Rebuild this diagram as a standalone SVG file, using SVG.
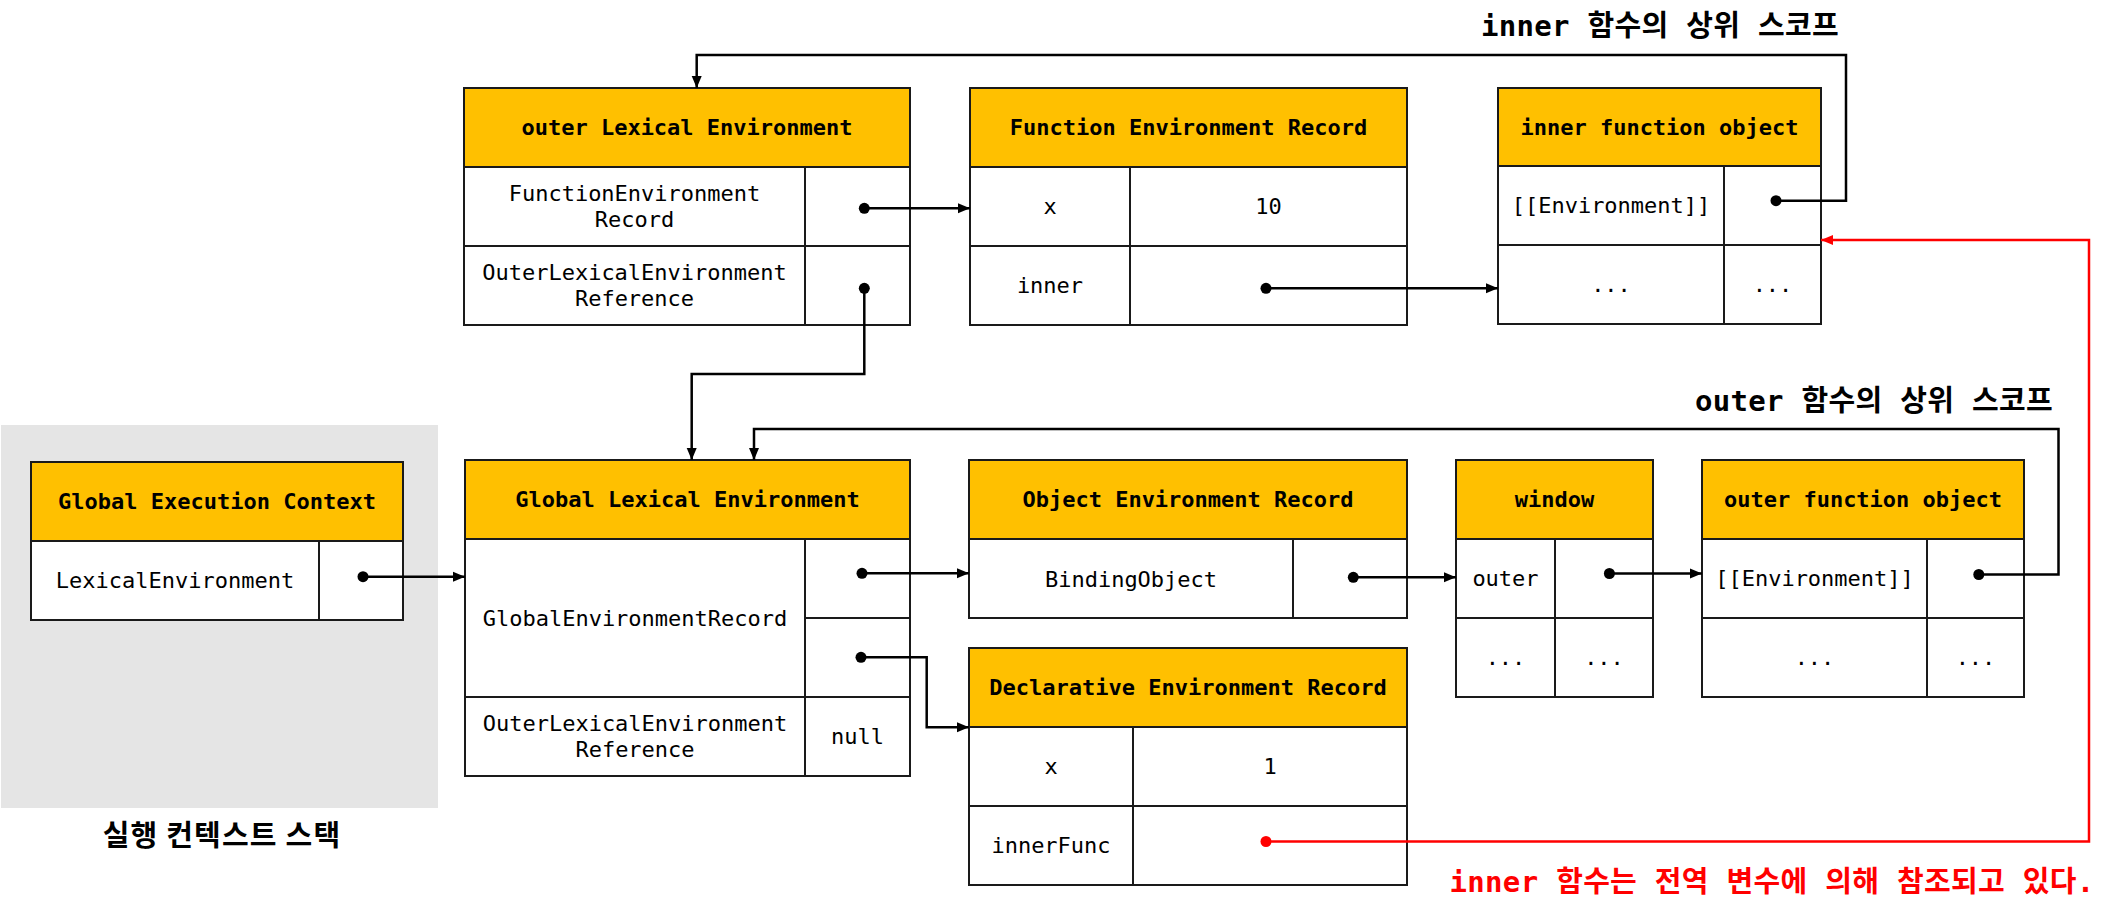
<svg xmlns="http://www.w3.org/2000/svg" width="2116" height="916" viewBox="0 0 2116 916">
<style>
.hdr{fill:#FFC000;stroke:#1a1a1a;stroke-width:2}
.cell{fill:#ffffff;stroke:#1a1a1a;stroke-width:2}
.ln{stroke:#1a1a1a;stroke-width:2;fill:none}
.ht{font-family:"DejaVu Sans Mono","Noto Sans CJK KR",monospace;font-size:22px;font-weight:bold;fill:#000;text-anchor:middle;dominant-baseline:central}
.bt{font-family:"DejaVu Sans Mono","Noto Sans CJK KR",monospace;font-size:22px;fill:#000;text-anchor:middle;dominant-baseline:central}
.ttl{font-family:"DejaVu Sans Mono","Noto Sans CJK KR",monospace;font-size:29px;font-weight:bold;fill:#000;text-anchor:middle;letter-spacing:0.3px}
.red{fill:#ff0000}
.con{stroke:#000;stroke-width:2.5;fill:none}
.conr{stroke:#ff0000;stroke-width:2.5;fill:none}
.dot{fill:#000}
.dotr{fill:#ff0000}
</style>
<defs>
<marker id="ah" markerUnits="userSpaceOnUse" markerWidth="12" markerHeight="12" viewBox="0 0 12 12" refX="12" refY="6" orient="auto">
<path d="M0,1 L12,6 L0,11 z" fill="#000"/>
</marker>
<marker id="ahr" markerUnits="userSpaceOnUse" markerWidth="12" markerHeight="12" viewBox="0 0 12 12" refX="12" refY="6" orient="auto">
<path d="M0,1 L12,6 L0,11 z" fill="#ff0000"/>
</marker>
</defs>
<rect width="2116" height="916" fill="#ffffff"/>

<g id="stack">
<rect x="1" y="425" width="437" height="383" fill="#e5e5e5"/>
<text x="222" y="846" style="font-family:'Noto Sans CJK KR',sans-serif;font-size:29px;font-weight:bold;text-anchor:middle;fill:#000;letter-spacing:1.2px">실행 컨텍스트 스택</text>
</g>

<g id="global-execution-context">
<rect class="hdr" x="31" y="462" width="372" height="79"/>
<rect class="cell" x="31" y="541" width="372" height="79"/>
<line class="ln" x1="319" y1="541" x2="319" y2="620"/>
<text class="ht" x="217" y="501.5">Global Execution Context</text>
<text class="bt" x="175" y="580.5">LexicalEnvironment</text>
</g>

<g id="global-lexical-environment">
<rect class="hdr" x="465" y="460" width="445" height="79"/>
<rect class="cell" x="465" y="539" width="445" height="237"/>
<line class="ln" x1="805" y1="539" x2="805" y2="776"/>
<line class="ln" x1="805" y1="618" x2="910" y2="618"/>
<line class="ln" x1="465" y1="697" x2="910" y2="697"/>
<text class="ht" x="687.5" y="499.5">Global Lexical Environment</text>
<text class="bt" x="635" y="618">GlobalEnvironmentRecord</text>
<text class="bt" x="635" y="723.5">OuterLexicalEnvironment</text>
<text class="bt" x="635" y="749.5">Reference</text>
<text class="bt" x="857.5" y="736.5">null</text>
</g>

<g id="outer-lexical-environment">
<rect class="hdr" x="464" y="88" width="446" height="79"/>
<rect class="cell" x="464" y="167" width="446" height="158"/>
<line class="ln" x1="805" y1="167" x2="805" y2="325"/>
<line class="ln" x1="464" y1="246" x2="910" y2="246"/>
<text class="ht" x="687" y="127.5">outer Lexical Environment</text>
<text class="bt" x="634.5" y="193.5">FunctionEnvironment</text>
<text class="bt" x="634.5" y="219">Record</text>
<text class="bt" x="634.5" y="272.5">OuterLexicalEnvironment</text>
<text class="bt" x="634.5" y="298">Reference</text>
</g>

<g id="function-environment-record">
<rect class="hdr" x="970" y="88" width="437" height="79"/>
<rect class="cell" x="970" y="167" width="437" height="158"/>
<line class="ln" x1="1130" y1="167" x2="1130" y2="325"/>
<line class="ln" x1="970" y1="246" x2="1407" y2="246"/>
<text class="ht" x="1188.5" y="127.5">Function Environment Record</text>
<text class="bt" x="1050" y="206.5">x</text>
<text class="bt" x="1268.5" y="206.5">10</text>
<text class="bt" x="1050" y="285.5">inner</text>
</g>

<g id="inner-function-object">
<rect class="hdr" x="1498" y="88" width="323" height="78"/>
<rect class="cell" x="1498" y="166" width="323" height="158"/>
<line class="ln" x1="1724" y1="166" x2="1724" y2="324"/>
<line class="ln" x1="1498" y1="245" x2="1821" y2="245"/>
<text class="ht" x="1659.5" y="127">inner function object</text>
<text class="bt" x="1611" y="205.5">[[Environment]]</text>
<text class="bt" x="1611" y="284.5">...</text>
<text class="bt" x="1772.5" y="284.5">...</text>
</g>

<g id="object-environment-record">
<rect class="hdr" x="969" y="460" width="438" height="79"/>
<rect class="cell" x="969" y="539" width="438" height="79"/>
<line class="ln" x1="1293" y1="539" x2="1293" y2="618"/>
<text class="ht" x="1188" y="499.5">Object Environment Record</text>
<text class="bt" x="1131" y="579">BindingObject</text>
</g>

<g id="declarative-environment-record">
<rect class="hdr" x="969" y="648" width="438" height="79"/>
<rect class="cell" x="969" y="727" width="438" height="158"/>
<line class="ln" x1="1133" y1="727" x2="1133" y2="885"/>
<line class="ln" x1="969" y1="806" x2="1407" y2="806"/>
<text class="ht" x="1188" y="687.5">Declarative Environment Record</text>
<text class="bt" x="1051" y="766.5">x</text>
<text class="bt" x="1270" y="766.5">1</text>
<text class="bt" x="1051" y="845.5">innerFunc</text>
</g>

<g id="window">
<rect class="hdr" x="1456" y="460" width="197" height="79"/>
<rect class="cell" x="1456" y="539" width="197" height="158"/>
<line class="ln" x1="1555" y1="539" x2="1555" y2="697"/>
<line class="ln" x1="1456" y1="618" x2="1653" y2="618"/>
<text class="ht" x="1554.5" y="499.5">window</text>
<text class="bt" x="1505.5" y="578.5">outer</text>
<text class="bt" x="1505.5" y="657.5">...</text>
<text class="bt" x="1604" y="657.5">...</text>
</g>

<g id="outer-function-object">
<rect class="hdr" x="1702" y="460" width="322" height="79"/>
<rect class="cell" x="1702" y="539" width="322" height="158"/>
<line class="ln" x1="1927" y1="539" x2="1927" y2="697"/>
<line class="ln" x1="1702" y1="618" x2="2024" y2="618"/>
<text class="ht" x="1863" y="499.5">outer function object</text>
<text class="bt" x="1814.5" y="578.5">[[Environment]]</text>
<text class="bt" x="1814.5" y="657.5">...</text>
<text class="bt" x="1975.5" y="657.5">...</text>
</g>

<g id="labels">
<text class="ttl" x="1660" y="36">inner 함수의 상위 스코프</text>
<text class="ttl" x="1874" y="411">outer 함수의 상위 스코프</text>
<text class="ttl red" x="1772" y="892">inner 함수는 전역 변수에 의해 참조되고 있다.</text>
</g>

<g id="connectors">
<path class="con" d="M363,576.7 H465" marker-end="url(#ah)"/>
<circle class="dot" cx="363" cy="576.7" r="5.5"/>
<path class="con" d="M862,573.3 H969" marker-end="url(#ah)"/>
<circle class="dot" cx="862" cy="573.3" r="5.5"/>
<path class="con" d="M861,657.3 H926.7 V727.3 H969" marker-end="url(#ah)"/>
<circle class="dot" cx="861" cy="657.3" r="5.5"/>
<path class="con" d="M864.3,208.3 H970" marker-end="url(#ah)"/>
<circle class="dot" cx="864.3" cy="208.3" r="5.5"/>
<path class="con" d="M864.3,288.3 V374 H691.7 V460" marker-end="url(#ah)"/>
<circle class="dot" cx="864.3" cy="288.3" r="5.5"/>
<path class="con" d="M1266,288.3 H1498" marker-end="url(#ah)"/>
<circle class="dot" cx="1266" cy="288.3" r="5.5"/>
<path class="con" d="M1776,200.7 H1846 V55 H696.7 V88" marker-end="url(#ah)"/>
<circle class="dot" cx="1776" cy="200.7" r="5.5"/>
<path class="con" d="M1353.3,577.3 H1456" marker-end="url(#ah)"/>
<circle class="dot" cx="1353.3" cy="577.3" r="5.5"/>
<path class="con" d="M1609.4,573.5 H1702" marker-end="url(#ah)"/>
<circle class="dot" cx="1609.4" cy="573.5" r="5.5"/>
<path class="con" d="M1978.8,574.5 H2058.5 V429 H754 V460" marker-end="url(#ah)"/>
<circle class="dot" cx="1978.8" cy="574.5" r="5.5"/>
<path class="conr" d="M1266,841.5 H2089 V240 H1821" marker-end="url(#ahr)"/>
<circle class="dotr" cx="1266" cy="841.5" r="5.5"/>
</g>
</svg>
